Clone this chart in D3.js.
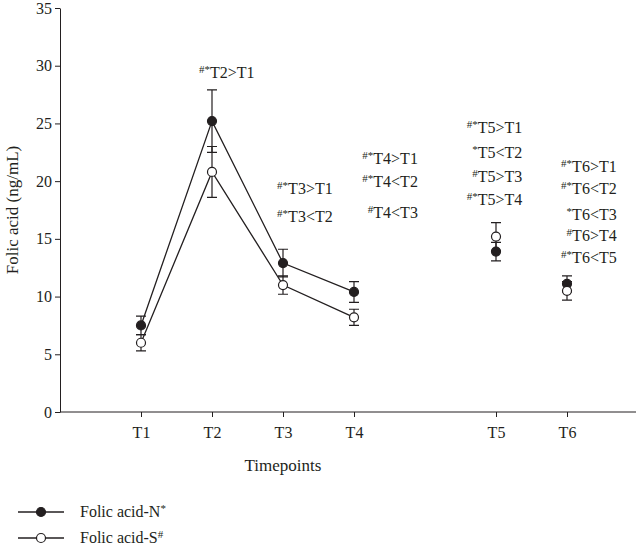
<!DOCTYPE html>
<html><head><meta charset="utf-8">
<script src="https://cdn.jsdelivr.net/npm/d3@7"></script>
<style>body{margin:0;background:#fff}text{font-family:"Liberation Serif","DejaVu Serif",serif;fill:#231f20}</style>
</head><body><div id="container"></div>
<script>
const timepoints = ["T1", "T2", "T3", "T4", "T5", "T6"];
const positions = [1, 2, 3, 4, 6, 7];
const seriesN = [7.5, 25.2, 12.9, 10.4, 13.9, 11.1];
const errN = [0.8, 2.7, 1.2, 0.9, 0.8, 0.7];
const seriesS = [6.0, 20.8, 11.0, 8.2, 15.2, 10.5];
const errS = [0.7, 2.2, 0.8, 0.7, 1.2, 0.8];
const yTicks = [0, 5, 10, 15, 20, 25, 30, 35];
// annotations: [prefix superscript, text, right edge (axis units), y value]
const notes = [
  ["#*", "T2>T1", 2.6, 28.9],
  ["#*", "T3>T1", 3.7, 18.9], ["#*", "T3<T2", 3.7, 16.5],
  ["#*", "T4>T1", 4.9, 21.5], ["#*", "T4<T2", 4.9, 19.5], ["#", "T4<T3", 4.9, 16.8],
  ["#*", "T5>T1", 6.37, 24.2], ["*", "T5<T2", 6.37, 22.0], ["#", "T5>T3", 6.37, 19.9], ["#*", "T5>T4", 6.37, 17.9],
  ["#*", "T6>T1", 7.7, 20.8], ["#*", "T6<T2", 7.7, 18.9], ["*", "T6<T3", 7.7, 16.6], ["#", "T6>T4", 7.7, 14.8], ["#*", "T6<T5", 7.7, 12.9]
];

const svg = d3.select("#container").append("svg").attr("width", 636).attr("height", 549);
const x = d3.scaleLinear().domain([0, 8]).range([70, 638]);
const y = d3.scaleLinear().domain([0, 35]).range([412, 8]);

svg.append("g").attr("transform", "translate(60,0)")
  .call(d3.axisLeft(y).tickValues(yTicks).tickSize(5).tickSizeOuter(0))
  .call(g => g.selectAll("text").style("font-size", "16px").attr("font-family", null));
svg.append("g").attr("transform", "translate(0,412)")
  .call(d3.axisBottom(x).tickValues(positions).tickFormat((d, i) => timepoints[i]).tickSize(5).tickPadding(10).tickSizeOuter(0))
  .call(g => g.select(".domain").attr("d", "M60,0H636"))
  .call(g => g.selectAll("text").style("font-size", "16px").attr("font-family", null));
svg.selectAll(".domain,.tick line").attr("stroke", "#231f20");

svg.append("text").attr("x", 283).attr("y", 471).attr("text-anchor", "middle").style("font-size", "17px").text("Timepoints");
svg.append("text").attr("transform", "translate(18,210) rotate(-90)").attr("text-anchor", "middle").style("font-size", "17px").text("Folic acid (ng/mL)");

const line = d3.line().x((d, i) => x(positions[i])).y(d => y(d));
[[seriesN, errN, "#231f20"], [seriesS, errS, "#fff"]].forEach(([vals, errs, fill]) => {
  svg.append("path").attr("d", line(vals.slice(0, 4))).attr("fill", "none").attr("stroke", "#231f20").attr("stroke-width", 1.3);
  const g = svg.append("g");
  vals.forEach((v, i) => {
    const cx = x(positions[i]);
    g.append("path").attr("stroke", "#231f20").attr("stroke-width", 1.2).attr("fill", "none")
      .attr("d", `M${cx},${y(v - errs[i])}V${y(v + errs[i])}M${cx - 5},${y(v - errs[i])}H${cx + 5}M${cx - 5},${y(v + errs[i])}H${cx + 5}`);
  });
  vals.forEach((v, i) => {
    g.append("circle").attr("cx", x(positions[i])).attr("cy", y(v)).attr("r", 4.5)
      .attr("fill", fill).attr("stroke", "#231f20").attr("stroke-width", 1.2);
  });
});

notes.forEach(([sup, txt, px, py]) => {
  const t = svg.append("text").attr("x", x(px)).attr("y", y(py)).attr("text-anchor", "end").style("font-size", "16px");
  t.append("tspan").attr("dy", "-0.45em").style("font-size", "11px").text(sup);
  t.append("tspan").attr("dy", "0.31em").text(txt);
});

[["Folic acid-N", "*", "#231f20", 512], ["Folic acid-S", "#", "#fff", 538]].forEach(([lab, sup, fill, ly]) => {
  svg.append("line").attr("x1", 18).attr("x2", 64).attr("y1", ly).attr("y2", ly).attr("stroke", "#231f20").attr("stroke-width", 1.3);
  svg.append("circle").attr("cx", 41).attr("cy", ly).attr("r", 4.5).attr("fill", fill).attr("stroke", "#231f20").attr("stroke-width", 1.2);
  const t = svg.append("text").attr("x", 80).attr("y", ly + 5).style("font-size", "16px").text(lab);
  t.append("tspan").attr("dy", "-0.45em").style("font-size", "11px").text(sup);
});
</script></body></html>
